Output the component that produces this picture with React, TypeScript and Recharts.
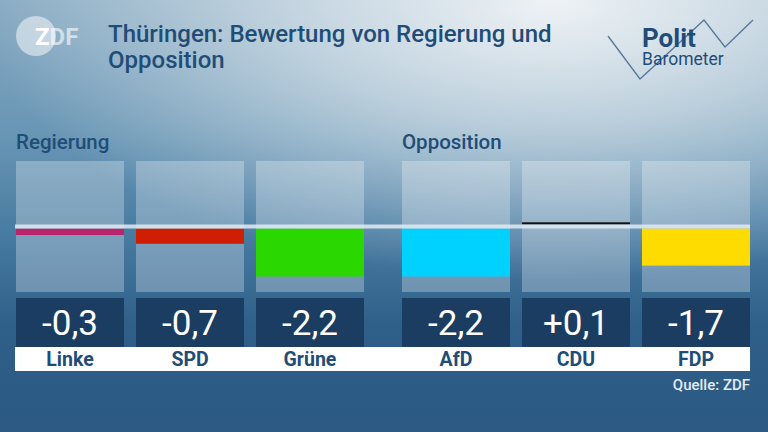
import { BarChart, Bar, XAxis, YAxis, ReferenceLine, Cell } from "recharts";

const regierungParteien = ["Linke", "SPD", "Grüne"];
const regierungWerte = [-0.3, -0.7, -2.2];
const regierungFarben = ["#b8246e", "#d01e00", "#2ad800"];

const oppositionParteien = ["AfD", "CDU", "FDP"];
const oppositionWerte = [-2.2, 0.1, -1.7];
const oppositionFarben = ["#00d2ff", "#111111", "#ffdc00"];

const skala = [-3, 3];

const FONT = "Roboto, 'Noto Sans', sans-serif";
const DUNKELBLAU = "#1f4d77";

function fmt(v: number) {
  return (v > 0 ? "+" : "") + v.toFixed(1).replace(".", ",");
}

function Balken(props: any) {
  const { x, y, width, height, fill, payload } = props;
  const top = Math.min(y, y + height);
  const h = Math.abs(height);
  // bars start at the edge of the 4px zero band, not its centre
  const shift = payload.wert < 0 ? 2 : -2;
  return <rect x={x} y={top + shift} width={width} height={h} fill={fill} />;
}

function Tick(props: any) {
  const { x, y, payload, werte, parteien } = props;
  const i = parteien.indexOf(payload.value);
  return (
    <g>
      <rect x={x - 54} y={y + 6} width={108} height={49} fill="#1b3d62" />
      <text x={x} y={y + 43} textAnchor="middle" fill="#ffffff" fontSize={35} fontFamily={FONT}>
        {fmt(werte[i])}
      </text>
      <text x={x} y={y + 74} textAnchor="middle" fill={DUNKELBLAU} fontSize={19.5} fontWeight={700} fontFamily={FONT}>
        {payload.value}
      </text>
    </g>
  );
}

function NullLinie(props: any, links: number, rechts: number) {
  const { x1, x2, y1 } = props;
  return <rect x={x1 + links} y={y1 - 2} width={x2 + rechts - (x1 + links)} height={4} fill="#e2ebf1" fillOpacity={0.85} />;
}

function Gruppe({ parteien, werte, farben, links, rechts }: any) {
  const data = parteien.map((p: string, i: number) => ({ partei: p, wert: werte[i] }));
  return (
    <BarChart width={400} height={211} data={data} margin={{ top: 0, right: 30, left: 10, bottom: 0 }}>
      <XAxis
        dataKey="partei"
        axisLine={false}
        tickLine={false}
        tickSize={0}
        tickMargin={0}
        height={80}
        interval={0}
        tick={(p: any) => <Tick {...p} werte={werte} parteien={parteien} />}
      />
      <YAxis hide domain={skala} type="number" allowDataOverflow />
      <Bar
        dataKey="wert"
        barSize={108}
        isAnimationActive={false}
        background={{ fill: "#ffffff", fillOpacity: 0.28 }}
        shape={Balken}
      >
        {data.map((_: any, i: number) => (
          <Cell key={i} fill={farben[i]} />
        ))}
      </Bar>
      <ReferenceLine y={0} ifOverflow="visible" shape={(p: any) => NullLinie(p, links, rechts)} />
    </BarChart>
  );
}

export default function App() {
  return (
    <div
      style={{
        position: "relative",
        width: 768,
        height: 432,
        overflow: "hidden",
        fontFamily: FONT,
        background:
          "radial-gradient(ellipse 75% 65% at 72% 0%, rgba(238,242,245,1) 0%, rgba(238,242,245,0.6) 45%, rgba(238,242,245,0) 100%), linear-gradient(180deg, #87aac2 0%, #6795b4 32%, #477aa1 55%, #2f6089 75%, #2b5984 100%)",
      }}
    >
      <style>{"body{margin:0}"}</style>

      {/* ZDF logo */}
      <svg width={90} height={70} style={{ position: "absolute", left: 0, top: 0 }}>
        <circle cx={36} cy={36} r={20} fill="#ffffff" fillOpacity={0.5} />
        <text x={35} y={45} fill="#ffffff" fontSize={24} fontWeight={700} fontFamily={FONT}>
          Z<tspan fillOpacity={0.6}>DF</tspan>
        </text>
      </svg>

      <div
        style={{
          position: "absolute",
          left: 108,
          top: 21,
          width: 500,
          fontSize: 24,
          lineHeight: "26px",
          fontWeight: 500,
          color: DUNKELBLAU,
        }}
      >
        Thüringen: Bewertung von Regierung und
        <br />
        Opposition
      </div>

      {/* Politbarometer logo */}
      <svg width={180} height={90} style={{ position: "absolute", left: 590, top: 0 }}>
        <polyline points="18,36 50,79 114,20 135,47 163,20" fill="none" stroke="#55779a" strokeWidth={1.3} />
        <text x={52} y={47} fill={DUNKELBLAU} fontSize={26} fontWeight={700} fontFamily={FONT}>
          Polit
        </text>
        <text x={52} y={65} fill={DUNKELBLAU} fontSize={17.5} fontFamily={FONT}>
          Barometer
        </text>
      </svg>

      <div style={{ position: "absolute", left: 16, top: 130, fontSize: 20.5, fontWeight: 500, color: DUNKELBLAU }}>
        Regierung
      </div>
      <div style={{ position: "absolute", left: 402, top: 130, fontSize: 20.5, fontWeight: 500, color: DUNKELBLAU }}>
        Opposition
      </div>

      {/* white label strip */}
      <div style={{ position: "absolute", left: 15, top: 347, width: 735, height: 24, background: "#ffffff" }} />

      <div style={{ position: "absolute", left: 0, top: 161 }}>
        <Gruppe parteien={regierungParteien} werte={regierungWerte} farben={regierungFarben} links={5} rechts={16} />
      </div>
      <div style={{ position: "absolute", left: 386, top: 161 }}>
        <Gruppe parteien={oppositionParteien} werte={oppositionWerte} farben={oppositionFarben} links={-10} rechts={-6} />
      </div>

      <div
        style={{
          position: "absolute",
          right: 18,
          top: 376,
          fontSize: 15,
          fontWeight: 500,
          color: "#e3ecf3",
        }}
      >
        Quelle: ZDF
      </div>
    </div>
  );
}
